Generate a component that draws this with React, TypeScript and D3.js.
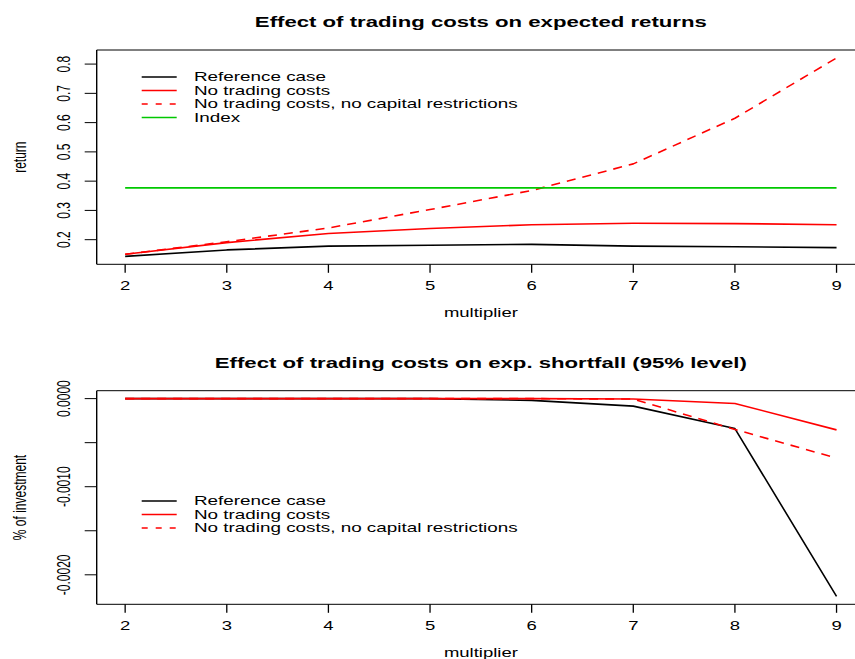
import React from "react";
import * as d3 from "d3";

// multiplier values on the x axis
const multipliers = [2, 3, 4, 5, 6, 7, 8, 9];

// expected returns per strategy
const retReference = [0.143, 0.165, 0.178, 0.181, 0.184, 0.178, 0.176, 0.173];
const retNoCost = [0.15, 0.19, 0.221, 0.238, 0.251, 0.256, 0.255, 0.251];
const retNoCostNoCap = [0.15, 0.193, 0.24, 0.303, 0.368, 0.459, 0.615, 0.821];
const retIndex = [0.377, 0.377, 0.377, 0.377, 0.377, 0.377, 0.377, 0.377];

// expected shortfall at the 95% level, as a fraction of investment
const sfReference = [0, 0, 0, 0, -0.00002, -0.000085, -0.00034, -0.002245];
const sfNoCost = [0, 0, 0, 0, 0, -0.000005, -0.000055, -0.000355];
const sfNoCostNoCap = [0, 0, 0, 0, 0, -0.000005, -0.00035, -0.000675];

const returnTicks = [0.2, 0.3, 0.4, 0.5, 0.6, 0.7, 0.8];
const returnTickLabels = ["0.2", "0.3", "0.4", "0.5", "0.6", "0.7", "0.8"];
const shortfallTicks = [0, -0.0005, -0.001, -0.0015, -0.002];
const shortfallTickLabels = ["0.0000", "", "-0.0010", "", "-0.0020"];

const W = 855;
const H = 659;
const SX = 1.54; // horizontal stretch of the device
const FONT = "'Liberation Sans', Arial, Helvetica, sans-serif";
const RED = "#ff0000";
const GREEN = "#00c800";
const DASH = "9,7";

const BOX_L = 96.7;
const BOX_R = 865;

// R-style 4% range extension
function padded(values: number[]): [number, number] {
  const lo = d3.min(values) as number;
  const hi = d3.max(values) as number;
  const p = (hi - lo) * 0.04;
  return [lo - p, hi + p];
}

const xScale = d3
  .scaleLinear()
  .domain(padded(multipliers))
  .range([BOX_L, BOX_R]);

type Series = { values: number[]; color: string; dashed?: boolean; label: string };

function Txt(props: {
  x: number;
  y: number;
  text: string;
  size: number;
  bold?: boolean;
  anchor?: "start" | "middle" | "end";
  rotate?: boolean;
}) {
  const t = `translate(${props.x},${props.y}) scale(${SX},1)${props.rotate ? " rotate(-90)" : ""}`;
  return (
    <text
      transform={t}
      fontFamily={FONT}
      fontSize={props.size}
      fontWeight={props.bold ? "bold" : "normal"}
      textAnchor={props.anchor ?? "middle"}
      fill="#000"
    >
      {props.text}
    </text>
  );
}

function Panel(props: {
  top: number;
  bottom: number;
  title: string;
  yLabel: string;
  series: Series[];
  ticks: number[];
  tickLabels: string[];
  legendY: number;
}) {
  const { top, bottom, series } = props;
  const all = series.flatMap((s) => s.values);
  const y = d3.scaleLinear().domain(padded(all)).range([bottom, top]);
  const line = d3
    .line<number>()
    .x((_, i) => xScale(multipliers[i]))
    .y((v) => y(v));
  const midY = (top + bottom) / 2;
  const midX = (BOX_L + BOX_R) / 2;
  return (
    <g>
      {/* series */}
      {series.map((s, i) => (
        <path
          key={i}
          d={line(s.values) ?? ""}
          fill="none"
          stroke={s.color}
          strokeWidth={1.6}
          strokeDasharray={s.dashed ? DASH : undefined}
          strokeLinejoin="round"
        />
      ))}
      {/* frame */}
      <line x1={BOX_L} x2={BOX_R} y1={top} y2={top} stroke="#000" strokeWidth={1} />
      <line x1={BOX_L} x2={BOX_R} y1={bottom} y2={bottom} stroke="#000" strokeWidth={1} />
      <line x1={BOX_L} x2={BOX_L} y1={top} y2={bottom} stroke="#000" strokeWidth={1.4} />
      {/* x axis */}
      {multipliers.map((m) => (
        <g key={m}>
          <line x1={xScale(m)} x2={xScale(m)} y1={bottom} y2={bottom + 8.5} stroke="#000" strokeWidth={1.3} />
          <Txt x={xScale(m)} y={bottom + 25.7} text={String(m)} size={12} />
        </g>
      ))}
      <Txt x={midX} y={bottom + 52.4} text="multiplier" size={12} />
      {/* y axis */}
      {props.ticks.map((t, i) => (
        <g key={i}>
          <line x1={BOX_L - 12} x2={BOX_L} y1={y(t)} y2={y(t)} stroke="#000" strokeWidth={1} />
          {props.tickLabels[i] ? (
            <Txt x={70} y={y(t)} text={props.tickLabels[i]} size={12} rotate />
          ) : null}
        </g>
      ))}
      <Txt x={26} y={midY} text={props.yLabel} size={12} rotate />
      {/* title */}
      <Txt x={midX} y={top - 23} text={props.title} size={14.4} bold />
      {/* legend */}
      {series.map((s, i) => {
        const ly = props.legendY + i * 13.5;
        return (
          <g key={"lg" + i}>
            <line
              x1={141.7}
              x2={176.7}
              y1={ly}
              y2={ly}
              stroke={s.color}
              strokeWidth={1.6}
              strokeDasharray={s.dashed ? "6,8" : undefined}
            />
            <Txt x={194} y={ly + 4.4} text={s.label} size={12.25} anchor="start" />
          </g>
        );
      })}
    </g>
  );
}

export default function App() {
  const returnSeries: Series[] = [
    { values: retReference, color: "#000", label: "Reference case" },
    { values: retNoCost, color: RED, label: "No trading costs" },
    { values: retNoCostNoCap, color: RED, dashed: true, label: "No trading costs, no capital restrictions" },
    { values: retIndex, color: GREEN, label: "Index" },
  ];
  const shortfallSeries: Series[] = [
    { values: sfReference, color: "#000", label: "Reference case" },
    { values: sfNoCost, color: RED, label: "No trading costs" },
    { values: sfNoCostNoCap, color: RED, dashed: true, label: "No trading costs, no capital restrictions" },
  ];
  return (
    <svg
      width={W}
      height={H}
      viewBox={`0 0 ${W} ${H}`}
      style={{ position: "absolute", left: 0, top: 0, background: "#fff" }}
    >
      <rect x={0} y={0} width={W} height={H} fill="#fff" />
      <Panel
        top={50}
        bottom={264.3}
        title="Effect of trading costs on expected returns"
        yLabel="return"
        series={returnSeries}
        ticks={returnTicks}
        tickLabels={returnTickLabels}
        legendY={77}
      />
      <Panel
        top={390.7}
        bottom={604.3}
        title="Effect of trading costs on exp. shortfall (95% level)"
        yLabel="% of investment"
        series={shortfallSeries}
        ticks={shortfallTicks}
        tickLabels={shortfallTickLabels}
        legendY={501}
      />
    </svg>
  );
}
